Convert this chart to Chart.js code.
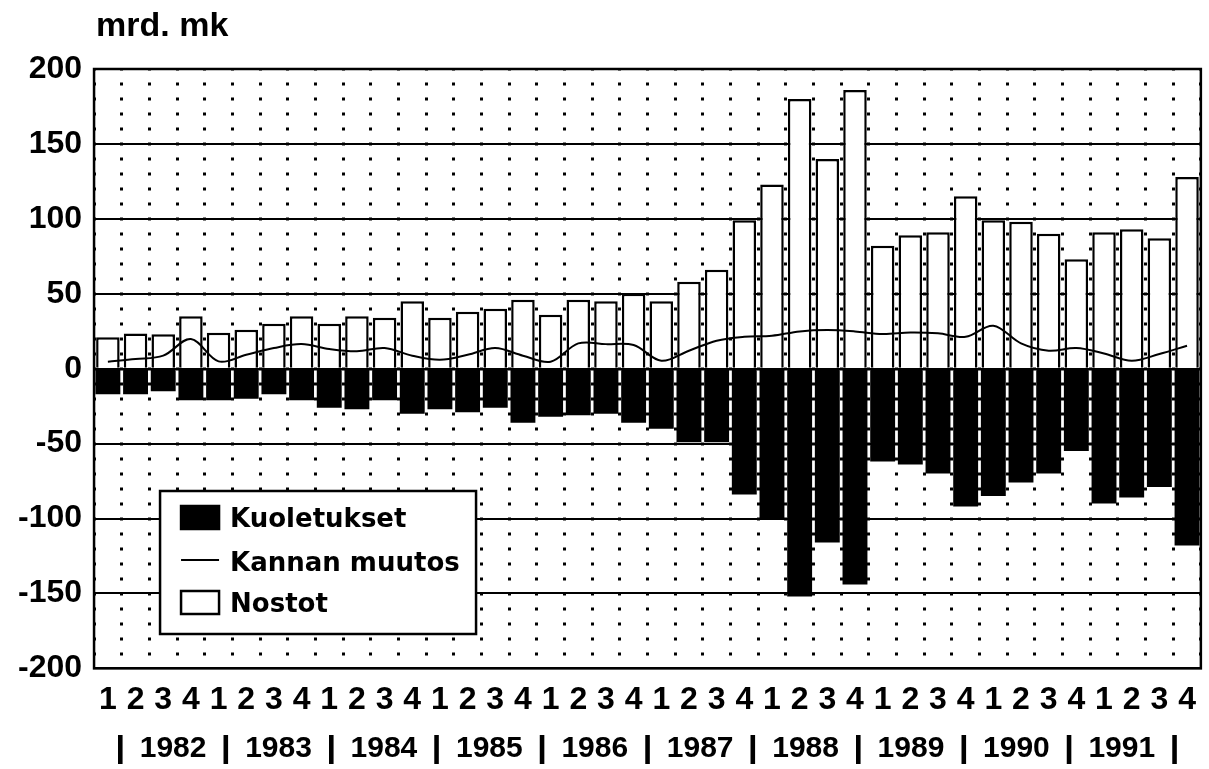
<!DOCTYPE html>
<html>
<head>
<meta charset="utf-8">
<script src="https://cdn.jsdelivr.net/npm/chart.js@4.4.0/dist/chart.umd.min.js"></script>
<style>
  html, body { margin: 0; padding: 0; background: #fff; }
  #graphDiv { width: 1209px; height: 769px; }
</style>
</head>
<body>
<div id="graphDiv"><canvas id="dataChart" width="1209" height="769"></canvas></div>
<script>
// Neljännekset 1982-1991
const years = ['1982', '1983', '1984', '1985', '1986', '1987', '1988', '1989', '1990', '1991'];
const quarters = [];
years.forEach(() => quarters.push('1', '2', '3', '4'));

// mrd. mk
const nostot = [21, 23.5, 23, 35, 24, 26, 30, 35, 30, 35, 34, 45, 34, 38, 40, 46, 36, 46, 45, 50,
    45, 58, 66, 99, 123, 180, 140, 186, 82, 89, 91, 115, 99, 98, 90, 73, 91, 93, 87, 128];
const kuoletukset = [-17, -17, -15, -21, -21, -20, -17, -21, -26, -27, -21, -30, -27, -29, -26, -36, -32, -31, -30, -36,
    -40, -49, -49, -84, -100, -152, -116, -144, -62, -64, -70, -92, -85, -76, -70, -55, -90, -86, -79, -118];
const kannanMuutos = [4.7, 6.4, 8.7, 19.8, 4.9, 9.3, 13.8, 16.4, 13.1, 11.6, 13.8, 8.7, 6, 9.3, 13.8, 8.7, 4.7, 16.9, 16.4, 15.8,
    5.3, 12, 18.7, 21.3, 22, 24.9, 25.8, 24.9, 23.1, 24.2, 23.6, 21.3, 28.7, 16.9, 12, 13.8, 10.2, 5.3, 9.8, 15.3];

const yTicks = [-200, -150, -100, -50, 0, 50, 100, 150, 200];

const FONT = '"Liberation Sans", Arial, sans-serif';
const LEGEND_FONT = '"DejaVu Sans", sans-serif';

//Kehys, otsikko ja selite
const framePlugin = {
    id: 'frame',
    afterDraw(chart) {
        const ctx = chart.ctx;
        const a = chart.chartArea;
        ctx.save();
        ctx.strokeStyle = '#000';
        ctx.lineWidth = 2.5;
        ctx.strokeRect(a.left, a.top, a.right - a.left, a.bottom - a.top);

        ctx.fillStyle = '#000';
        ctx.font = 'bold 34px ' + FONT;
        ctx.textBaseline = 'alphabetic';
        ctx.fillText('mrd. mk', a.left + 2, 36);

        // selite
        const lx = a.left + 66, ly = a.top + 422, lw = 316, lh = 143;
        ctx.fillStyle = '#fff';
        ctx.fillRect(lx, ly, lw, lh);
        ctx.lineWidth = 2.5;
        ctx.strokeRect(lx, ly, lw, lh);

        const items = [chart.data.datasets[1], chart.data.datasets[0], chart.data.datasets[2]];
        const rows = [27, 71, 112];
        ctx.font = 'bold 26px ' + LEGEND_FONT;
        items.forEach((ds, i) => {
            const cy = ly + rows[i];
            const sx = lx + 21;
            if (ds.type === 'line') {
                ctx.strokeStyle = '#000';
                ctx.lineWidth = 2;
                ctx.beginPath();
                ctx.moveTo(sx, cy - 2);
                ctx.lineTo(sx + 38, cy - 2);
                ctx.stroke();
            } else {
                ctx.fillStyle = ds.backgroundColor;
                ctx.fillRect(sx, cy - 12, 38, 23);
                ctx.strokeStyle = '#000';
                ctx.lineWidth = 2.5;
                ctx.strokeRect(sx, cy - 12, 38, 23);
            }
            ctx.fillStyle = '#000';
            ctx.textBaseline = 'middle';
            ctx.fillText(ds.label, lx + 70, cy + 2);
        });
        ctx.restore();
    }
};

const ctx = document.getElementById('dataChart').getContext('2d');

const dataChart = new Chart(ctx, {
    type: 'bar',
    data: {
        labels: quarters,
        datasets: [{
            type: 'line',
            label: 'Kannan muutos',
            data: kannanMuutos,
            borderColor: '#000',
            borderWidth: 2,
            pointRadius: 0,
            tension: 0.35,
            order: 0
        }, {
            label: 'Kuoletukset',
            data: kuoletukset,
            backgroundColor: '#000',
            borderColor: '#000',
            borderWidth: 0,
            barPercentage: 0.9,
            categoryPercentage: 1,
            grouped: false,
            order: 2
        }, {
            label: 'Nostot',
            data: nostot,
            backgroundColor: '#fff',
            borderColor: '#000',
            borderWidth: 2.5,
            barPercentage: 0.85,
            categoryPercentage: 1,
            grouped: false,
            order: 1
        }]
    },
    options: {
        responsive: false,
        animation: false,
        layout: {
            padding: { left: 6, right: 6, top: 69, bottom: 5 }
        },
        plugins: {
            legend: { display: false },
            tooltip: { enabled: false }
        },
        scales: {
            x: {
                offset: true,
                grid: {
                    offset: true,
                    color: '#000',
                    lineWidth: 3,
                    drawTicks: false
                },
                border: { display: false, dash: [3, 12], dashOffset: 1.5 },
                ticks: {
                    color: '#000',
                    font: { family: FONT, size: 32, weight: 'bold' },
                    padding: 13,
                    autoSkip: false,
                    maxRotation: 0
                }
            },
            x2: {
                type: 'linear',
                position: 'bottom',
                min: 0,
                max: 40,
                grid: { display: false },
                border: { display: false },
                afterBuildTicks: axis => {
                    const t = [];
                    for (let v = 0; v <= years.length * 4; v += 2) t.push({ value: v });
                    axis.ticks = t;
                },
                ticks: {
                    color: '#000',
                    font: c => (c.tick && c.tick.value % 4 === 0)
                        ? { family: FONT, size: 36, weight: 'bold' }
                        : { family: FONT, size: 30, weight: 'bold' },
                    padding: -10,
                    autoSkip: false,
                    maxRotation: 0,
                    callback: v => (v % 4 === 0 ? '|' : years[(v - 2) / 4])
                }
            },
            y: {
                min: -200,
                max: 200,
                afterBuildTicks: axis => {
                    axis.ticks = yTicks.map(v => ({ value: v }));
                },
                grid: {
                    color: '#000',
                    lineWidth: 2,
                    drawTicks: false
                },
                border: { display: false },
                ticks: {
                    color: '#000',
                    font: { family: FONT, size: 32, weight: 'bold' },
                    padding: 12
                }
            }
        }
    },
    plugins: [framePlugin]
});
</script>
</body>
</html>
